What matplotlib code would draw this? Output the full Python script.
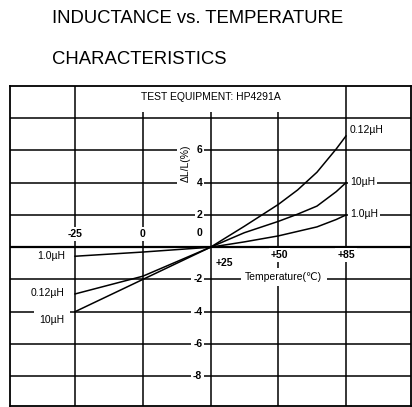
import matplotlib
matplotlib.use('Agg')
import matplotlib.pyplot as plt
import numpy as np

plt.rcParams['font.family'] = ['Liberation Sans', 'DejaVu Sans']

# temperature points (deg C) the curves were read at
temps = [-25, 0, 25, 37.5, 50, 60, 70, 80, 85]
# inductance change dL/L (%) for each part
dl_012uH = [-2.9, -1.8, 0, 1.3, 2.65, 3.55, 4.65, 6.1, 6.9]
dl_10uH = [-4.0, -2.0, 0, 0.9, 1.6, 2.05, 2.55, 3.45, 4.0]
dl_1uH = [-0.56, -0.3, 0, 0.33, 0.7, 0.98, 1.26, 1.72, 2.0]

x_ticks = [-25, 0, 25, 50, 85]
x_labels = ['-25', '0', '+25', '+50', '+85']
y_grid = [-8, -6, -4, -2, 0, 2, 4, 6, 8]
y_labels = [-8, -6, -4, -2, 0, 2, 4, 6]

# the temperature axis is not linear: each grid column is one step
brk_t = [-50, -25, 0, 25, 50, 85, 120]
brk_p = [-2, -1, 0, 1, 2, 3, 4]
def fwd(t):
    return np.interp(t, brk_t, brk_p)
def inv(p):
    return np.interp(p, brk_p, brk_t)

fig = plt.figure(figsize=(4.12, 4.07), dpi=100)
ax = fig.add_axes([10/412, 1/407, 401/412, 320/407])
ax.set_xscale('function', functions=(fwd, inv))
ax.set_xlim(-49, 118.6)
ax.set_ylim(-9.85, 10.0)
ax.set_xticks([])
ax.set_yticks([])
for s in ax.spines.values():
    s.set_linewidth(1.3)

# grid
for y in y_grid:
    ax.axhline(y, color='black', lw=1.6 if y == 0 else 1.1, zorder=1)
ax.vlines([-25, 85], -9.85, 10, color='black', lw=1.1, zorder=1)
ax.vlines([0, 25, 50], -9.85, 8.4, color='black', lw=1.1, zorder=1)

# curves
for vals in (dl_012uH, dl_10uH, dl_1uH):
    ax.plot(temps, vals, color='black', lw=1.1, zorder=3)

box = dict(facecolor='white', edgecolor='none', pad=1.5)
tk = dict(fontsize=7.5, fontweight='bold', zorder=2, bbox=box)

# tick labels on the y axis (sits at +25)
for y in y_labels:
    yy = 0.9 if y == 0 else y
    ax.text(22, yy, str(y), ha='right', va='center', **tk)
ax.text(15.9, 5.2, 'ΔL/L(%)', rotation=90, ha='center', va='center',
        fontsize=7.5, zorder=2, bbox=dict(facecolor='white', edgecolor='none', pad=3))

# tick labels on the x axis
ax.text(-25, 0.8, x_labels[0], ha='center', va='center', **tk)
ax.text(0, 0.8, x_labels[1], ha='center', va='center', **tk)
ax.text(30.2, -0.95, x_labels[2], ha='center', va='center', **tk)
ax.text(50.7, -0.47, x_labels[3], ha='center', va='center', **tk)
ax.text(85, -0.47, x_labels[4], ha='center', va='center', **tk)

ax.text(52.9, -1.85, 'Temperature(℃)', ha='center', va='center', fontsize=7.5,
        zorder=2, bbox=dict(facecolor='white', edgecolor='none', pad=3))
ax.text(25, 9.3, 'TEST EQUIPMENT: HP4291A', ha='center', va='center',
        fontsize=7.5, zorder=2)

# series labels
lb = dict(fontsize=7.5, zorder=2, bbox=box)
ax.text(87, 7.3, '0.12µH', ha='left', va='center', **lb)
ax.text(87, 4.05, '10µH', ha='left', va='center', **lb)
ax.text(87, 2.07, '1.0µH', ha='left', va='center', **lb)
ax.text(-28.8, -0.53, '1.0µH', ha='right', va='center', **lb)
ax.text(-28.8, -2.83, '0.12µH', ha='right', va='center', **lb)
ax.text(-28.8, -4.5, '10µH', ha='right', va='center',
        fontsize=7.5, zorder=2, bbox=dict(facecolor='white', edgecolor='none', pad=4))

fig.text(52/412, 1 - 23.3/407, 'INDUCTANCE vs. TEMPERATURE', fontsize=13.3,
         ha='left', va='baseline')
fig.text(52/412, 1 - 64/407, 'CHARACTERISTICS', fontsize=13.3,
         ha='left', va='baseline')

fig.savefig('out.png', dpi=100)
